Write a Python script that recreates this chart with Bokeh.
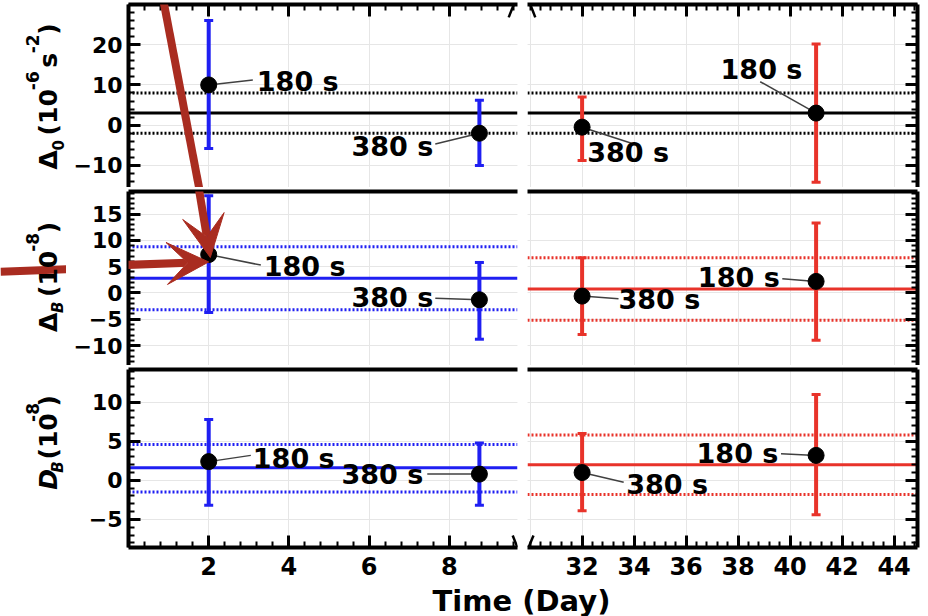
import numpy as np
from math import pi
from bokeh.plotting import figure
from bokeh.models import (Range1d, LinearAxis, FixedTicker, Grid, ColumnDataSource,
                          Whisker, TeeHead, Arrow, VeeHead, Label, Span)
from bokeh.layouts import column, row
from bokeh.embed import file_html
from bokeh.resources import INLINE
from bokeh.core.properties import value

# ---------------- data ----------------
left_days = [2.0, 8.75]
right_days = [32.0, 41.0]
left_tags = ["180 s", "380 s"]
right_tags = ["380 s", "180 s"]

delta0_left = [10.0, -2.0]
delta0_left_low = [-5.8, -10.0]
delta0_left_high = [26.0, 6.2]
delta0_right = [-0.5, 3.0]
delta0_right_low = [-8.8, -14.2]
delta0_right_high = [7.0, 20.2]
delta0_mean = 3.0
delta0_band = [-2.0, 8.0]

deltaB_left = [7.3, -1.3]
deltaB_left_low = [-3.7, -8.8]
deltaB_left_high = [18.5, 5.8]
deltaB_left_mean = 2.8
deltaB_left_band = [-3.2, 8.8]
deltaB_right = [-0.6, 2.2]
deltaB_right_low = [-7.9, -9.0]
deltaB_right_high = [6.7, 13.3]
deltaB_right_mean = 0.75
deltaB_right_band = [-5.2, 6.7]

DB_left = [2.4, 0.8]
DB_left_low = [-3.2, -3.2]
DB_left_high = [7.8, 4.8]
DB_left_mean = 1.6
DB_left_band = [-1.5, 4.6]
DB_right = [1.0, 3.2]
DB_right_low = [-3.9, -4.4]
DB_right_high = [6.0, 11.0]
DB_right_mean = 2.0
DB_right_band = [-1.8, 5.8]

left_xticks = [2, 4, 6, 8]
right_xticks = [32, 34, 36, 38, 40, 42, 44]
delta0_yticks = [-10, 0, 10, 20]
deltaB_yticks = [-10, -5, 0, 5, 10, 15]
DB_yticks = [-5, 0, 5, 10]

x_title = "Time (Day)"
# y-axis titles as pieces: (text, style, font px, baseline shift); text None = gap of given px
y_titles = [
    [("Δ", "bold", 25, 0), ("0", "bold", 15, 9), (None, None, 5, 0), ("(10", "bold", 25, 0),
     ("-6", "bold", 17, -16), (None, None, 4, 0), ("s", "bold", 25, 0),
     ("-2", "bold", 17, -16), (")", "bold", 25, 0)],
    [("Δ", "bold", 25, 0), ("B", "bold italic", 15, 9), (None, None, 5, 0), ("(10", "bold", 25, 0),
     ("-8", "bold", 17, -16), (")", "bold", 25, 0)],
    [("D", "bold italic", 25, 0), ("B", "bold italic", 15, 9), (None, None, 5, 0),
     ("(10", "bold", 25, 0), ("-8", "bold", 17, -16), (")", "bold", 25, 0)],
]

# ---------------- layout / annotation positions ----------------
# label placement: (text x, text y, align, leader end x, leader end y)
tag_layout = {
    (0, "L"): [(3.2, 10.9, "left", 3.1, 11.2), (7.6, -5.4, "right", 7.65, -4.7)],
    (0, "R"): [(32.2, -6.8, "left", 33.9, -4.5), (38.9, 13.8, "center", 38.85, 10.8)],
    (1, "L"): [(3.37, 5.0, "left", 3.3, 5.3), (7.6, -0.9, "right", 7.65, -1.0)],
    (1, "R"): [(33.4, -1.3, "left", 33.4, -1.1), (39.6, 3.0, "right", 39.7, 2.7)],
    (2, "L"): [(3.1, 2.8, "left", 3.05, 3.2), (7.35, 0.75, "right", 7.45, 0.8)],
    (2, "R"): [(33.7, -0.5, "left", 33.6, -0.25), (39.55, 3.5, "right", 39.65, 3.4)],
}
# axis-break marks (x0, y0, x1, y1) per panel
break_marks = {
    (0, "L"): (9.48, 26.8, 9.60, 29.8),
    (0, "R"): (30.02, 29.8, 30.2, 26.8),
    (2, "L"): (9.58, -7.06, 9.70, -8.6),
    (2, "R"): (29.94, -8.6, 30.13, -7.06),
}
SIDE_W = 66
ROW_H = [187, 178, 219]
TITLE_BASE_X = 48
TITLE_CENTER_Y = [93, 90.5, 128]

BLUE = "#1f1ff2"
RED = "#e8332a"
ARROW = "#a92c20"
FONT = "DejaVu Sans"
XR_L = (0.0, 9.7)
XR_R = (29.9, 44.9)
YR = [(-15.5, 30.0), (-13.8, 19.3), (-8.6, 14.2)]
FRAME_H = [183, 174, 178]
EM = {"Δ": 0.774, "D": 0.830, "B": 0.762, " ": 0.348, "(": 0.457, ")": 0.457,
      "s": 0.595, "−": 0.838, "-": 0.415}


def text_len(t, size):
    if t is None:
        return size
    return sum(EM.get(c, 0.696) for c in t) * size


def minor(lo, hi, step):
    return [float(v) for v in np.round(np.arange(lo, hi + 1e-9, step), 3)]


def style_axis(ax, ticks, labels, size=22, standoff=6, tick_list=()):
    ax.axis_line_width = 4
    ax.axis_line_color = "black"
    ax.major_tick_out = 0
    ax.minor_tick_out = 0
    if ticks:
        ax.major_tick_in = 12
        ax.minor_tick_in = 6
        ax.major_tick_line_width = 3
        ax.minor_tick_line_width = 2
    else:
        ax.major_tick_in = 0
        ax.minor_tick_in = 0
        ax.major_tick_line_color = None
        ax.minor_tick_line_color = None
    if labels:
        ax.major_label_text_font = FONT
        ax.major_label_text_font_style = "bold"
        ax.major_label_text_font_size = f"{size}px"
        ax.major_label_text_color = "black"
        ax.major_label_standoff = standoff
        ax.major_label_overrides = {t: f"−{abs(t)}" for t in tick_list if t < 0}
    else:
        ax.major_label_text_font_size = "1px"
        ax.major_label_text_color = None
        ax.major_label_standoff = 0


def make_panel(r, side, yticks, yminor, xticks, xminor):
    L = side == "L"
    p = figure(frame_width=389 if L else 390, frame_height=FRAME_H[r],
               x_range=Range1d(*(XR_L if L else XR_R)), y_range=Range1d(*YR[r]),
               x_axis_location=None, y_axis_location=None,
               output_backend="svg", toolbar_location=None,
               min_border_left=128 - SIDE_W if L else 5, min_border_right=5 if L else 11,
               min_border_top=4, min_border_bottom=37 if r == 2 else 0)
    p.outline_line_color = None
    p.background_fill_color = "white"
    xt = FixedTicker(ticks=xticks, minor_ticks=xminor)
    yt = FixedTicker(ticks=yticks, minor_ticks=yminor)
    p.add_layout(Grid(dimension=0, ticker=xt, grid_line_color="#e6e6e6", grid_line_width=1))
    p.add_layout(Grid(dimension=1, ticker=yt, grid_line_color="#e6e6e6", grid_line_width=1))
    ya = LinearAxis(ticker=yt)
    style_axis(ya, True, L, 22, 6, yticks)
    p.add_layout(ya, "left" if L else "right")
    ta = LinearAxis(ticker=xt)
    style_axis(ta, r == 0, False)
    p.add_layout(ta, "above")
    if r == 2:
        ba = LinearAxis(ticker=xt)
        style_axis(ba, True, True, 24, 9, xticks)
        p.add_layout(ba, "below")
    if (r, side) in break_marks:
        x0, y0, x1, y1 = break_marks[(r, side)]
        p.segment(x0=[x0], y0=[y0], x1=[x1], y1=[y1], line_color="black", line_width=2.5)
    return p


def add_content(p, r, side, days, vals, lo, hi, bar_color, mean, band, line_color, tags):
    p.add_layout(Span(location=mean, dimension="width", line_color=line_color,
                      line_width=3, level="underlay"))
    for b in band:
        p.add_layout(Span(location=b, dimension="width", line_color=line_color,
                          line_width=3, line_dash="2 2", level="underlay"))
    lay = tag_layout[(r, side)]
    src = ColumnDataSource(dict(
        x=days, y=vals, lo=lo, hi=hi, tag=tags,
        tx=[l[0] for l in lay], ty=[l[1] for l in lay], al=[l[2] for l in lay],
        lx=[l[3] for l in lay], ly=[l[4] for l in lay]))
    w = Whisker(base="x", lower="lo", upper="hi", source=src, dimension="height",
                line_color=bar_color, line_width=4, level="underlay",
                lower_head=TeeHead(size=9, line_color=bar_color, line_width=3),
                upper_head=TeeHead(size=9, line_color=bar_color, line_width=3))
    p.add_layout(w)
    p.segment(x0="x", y0="y", x1="lx", y1="ly", source=src, line_color="#404040", line_width=1.5)
    p.scatter(x="x", y="y", source=src, size=16, color="black")
    p.text(x="tx", y="ty", text="tag", source=src, text_align="al", text_baseline="middle",
           text_font=value(FONT), text_font_style="bold", text_font_size="27px", text_color="black")


def make_side(r):
    f = figure(width=SIDE_W, height=ROW_H[r], x_range=Range1d(0, SIDE_W),
               y_range=Range1d(0, ROW_H[r]), x_axis_location=None, y_axis_location=None,
               output_backend="svg", toolbar_location=None, min_border=0)
    f.outline_line_color = None
    f.grid.visible = False
    pieces = y_titles[r]
    total = sum(text_len(t, s) for t, _, s, _ in pieces)
    y = TITLE_CENTER_Y[r] - total / 2
    for t, style, s, dx in pieces:
        if t is not None:
            f.add_layout(Label(x=TITLE_BASE_X + dx, y=y, text=t, angle=pi / 2,
                               text_font=FONT, text_font_style=style, text_font_size=f"{s}px",
                               text_baseline="alphabetic", text_align="left", text_color="black"))
        y += text_len(t, s)
    return f


xminor_L = minor(0.0, 9.6, 0.4)
xminor_R = minor(30.0, 44.8, 0.4)
yminors = [minor(-14, 30, 2), minor(-13, 19, 1), minor(-8, 14, 1)]
ytick_sets = [delta0_yticks, deltaB_yticks, DB_yticks]

panels = {}
sides = []
for r in range(3):
    panels[(r, "L")] = make_panel(r, "L", ytick_sets[r], yminors[r], left_xticks, xminor_L)
    panels[(r, "R")] = make_panel(r, "R", ytick_sets[r], yminors[r], right_xticks, xminor_R)
    sides.append(make_side(r))

add_content(panels[(0, "L")], 0, "L", left_days, delta0_left, delta0_left_low, delta0_left_high,
            BLUE, delta0_mean, delta0_band, "black", left_tags)
add_content(panels[(0, "R")], 0, "R", right_days, delta0_right, delta0_right_low, delta0_right_high,
            RED, delta0_mean, delta0_band, "black", right_tags)
add_content(panels[(1, "L")], 1, "L", left_days, deltaB_left, deltaB_left_low, deltaB_left_high,
            BLUE, deltaB_left_mean, deltaB_left_band, BLUE, left_tags)
add_content(panels[(1, "R")], 1, "R", right_days, deltaB_right, deltaB_right_low, deltaB_right_high,
            RED, deltaB_right_mean, deltaB_right_band, RED, right_tags)
add_content(panels[(2, "L")], 2, "L", left_days, DB_left, DB_left_low, DB_left_high,
            BLUE, DB_left_mean, DB_left_band, BLUE, left_tags)
add_content(panels[(2, "R")], 2, "R", right_days, DB_right, DB_right_low, DB_right_high,
            RED, DB_right_mean, DB_right_band, RED, right_tags)

# red pointer arrows (overlay annotation)
panels[(0, "L")].add_layout(Arrow(start=None, end=None, x_start=0.87, y_start=31.0,
                                  x_end=1.82, y_end=-18.7, line_color=ARROW, line_width=8))
panels[(1, "L")].add_layout(Arrow(end=VeeHead(size=42, fill_color=ARROW, line_color=ARROW),
                                  x_start=1.72, y_start=21.4, x_end=2.04, y_end=6.75,
                                  line_color=ARROW, line_width=8))
panels[(1, "L")].add_layout(Arrow(end=VeeHead(size=42, fill_color=ARROW, line_color=ARROW),
                                  x_start=-3.19, y_start=4.46, x_end=2.0, y_end=5.9,
                                  line_color=ARROW, line_width=8))
sides[1].segment(x0=[0], y0=[96], x1=[SIDE_W], y1=[98.4], line_color=ARROW, line_width=8)

# x-axis title spanning both columns
tf = figure(width=928, height=32, x_range=Range1d(0, 928), y_range=Range1d(0, 32),
            x_axis_location=None, y_axis_location=None, output_backend="svg",
            toolbar_location=None, min_border=0)
tf.outline_line_color = None
tf.grid.visible = False
tf.add_layout(Label(x=521, y=16, text=x_title, text_font=FONT, text_font_style="bold",
                    text_font_size="29px", text_align="center", text_baseline="middle",
                    text_color="black"))

layout = column(row(sides[0], panels[(0, "L")], panels[(0, "R")]),
                row(sides[1], panels[(1, "L")], panels[(1, "R")]),
                row(sides[2], panels[(2, "L")], panels[(2, "R")]),
                tf)

open("out.html", "w").write(file_html(layout, INLINE))
